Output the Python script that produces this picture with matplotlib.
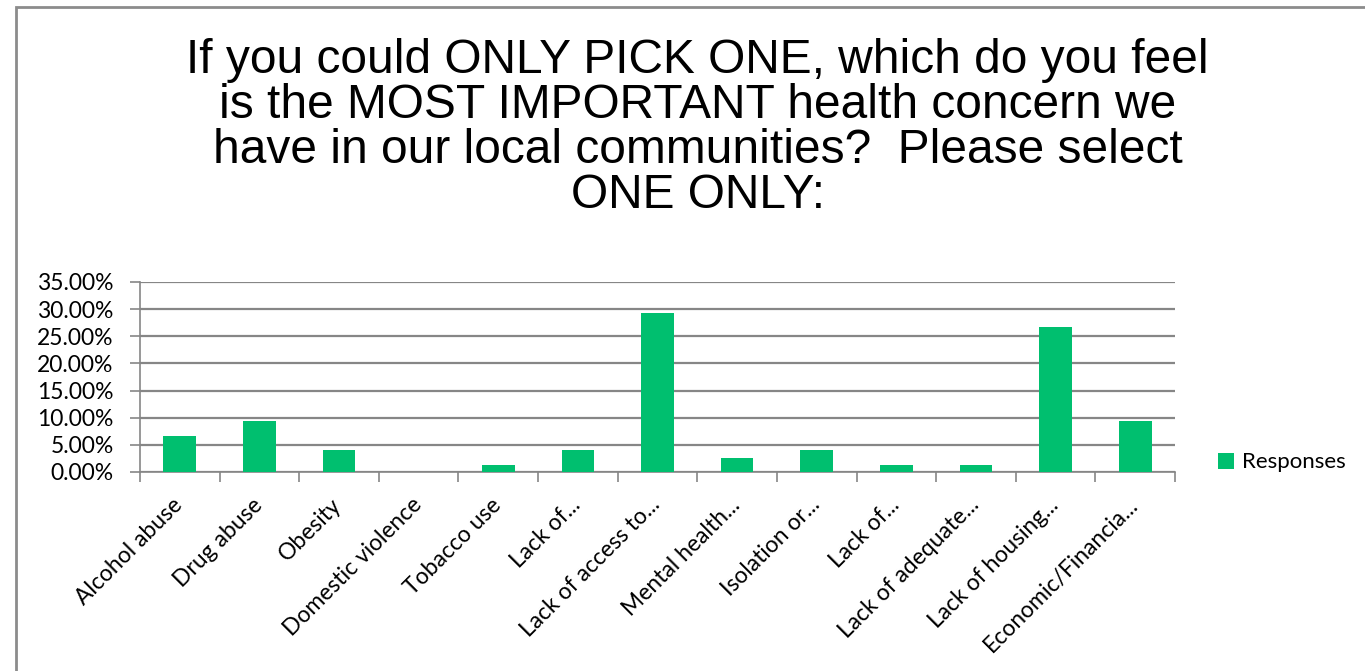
import matplotlib.pyplot as plt
import matplotlib.transforms as mtrans
from matplotlib.patches import Rectangle
import numpy as np

categories = ['Alcohol abuse', 'Drug abuse', 'Obesity', 'Domestic violence',
              'Tobacco use', 'Lack of...', 'Lack of access to...',
              'Mental health...', 'Isolation or...', 'Lack of...',
              'Lack of adequate...', 'Lack of housing...',
              'Economic/Financia...']
responses = [6.67, 9.33, 4.00, 0.00, 1.33, 4.00, 29.33, 2.67, 4.00, 1.33,
             1.33, 26.67, 9.33]
yticks = [0, 5, 10, 15, 20, 25, 30, 35]

title = ('If you could ONLY PICK ONE, which do you feel\n'
         'is the MOST IMPORTANT health concern we\n'
         'have in our local communities?  Please select\n'
         'ONE ONLY:')

green = '#00BF6F'
grid_c = '#868686'

fig = plt.figure(figsize=(13.65, 6.71), dpi=100)
# rahmen um das ganze diagramm
fig.patches.append(Rectangle((16 / 1365, -0.1), 1.2, 1.1 - 7 / 671,
                             transform=fig.transFigure, fill=False,
                             edgecolor='#8c8c8c', linewidth=2))

fig.text(0.511, 0.944, title, ha='center', va='top', fontsize=34.5,
         family='Liberation Sans', linespacing=1.0)

ax = fig.add_axes([140 / 1365, 1 - 472 / 671, (1175 - 140) / 1365, 190 / 671])
x = np.arange(len(categories))
ax.bar(x, responses, width=0.41, color=green, zorder=3, label='Responses')

ax.set_xlim(-0.5, len(categories) - 0.5)
ax.set_ylim(0, 35)
ax.set_yticks(yticks)
ax.set_yticklabels(['%.2f%%' % v for v in yticks], family='Lato', fontsize=16.5)
ax.yaxis.grid(True, color=grid_c, linewidth=1.6, zorder=0)
ax.tick_params(axis='y', length=7, width=1.2, color=grid_c, pad=12)

ax.set_xticks(x)
ax.set_xticklabels(categories, rotation=45, ha='right', rotation_mode='anchor',
                   family='Lato', fontsize=16.5)
ax.tick_params(axis='x', which='major', length=0, pad=16)
ax.set_xticks(np.arange(len(categories) + 1) - 0.5, minor=True)
ax.tick_params(axis='x', which='minor', length=7, color=grid_c, width=1.2)
# labels etwas nach links schieben
shift = mtrans.ScaledTranslation(-8 / 100, 0, fig.dpi_scale_trans)
for lab in ax.get_xticklabels():
    lab.set_transform(lab.get_transform() + shift)

for s in ['top', 'right']:
    ax.spines[s].set_visible(False)
for s in ['left', 'bottom']:
    ax.spines[s].set_color(grid_c)
    ax.spines[s].set_linewidth(1.2)

leg = ax.legend(loc='center left', bbox_to_anchor=(1.022, 0.05), frameon=False,
                prop={'family': 'Lato', 'size': 16}, handlelength=0.75,
                handleheight=0.75, handletextpad=0.35)

fig.savefig('out.png', dpi=100)
